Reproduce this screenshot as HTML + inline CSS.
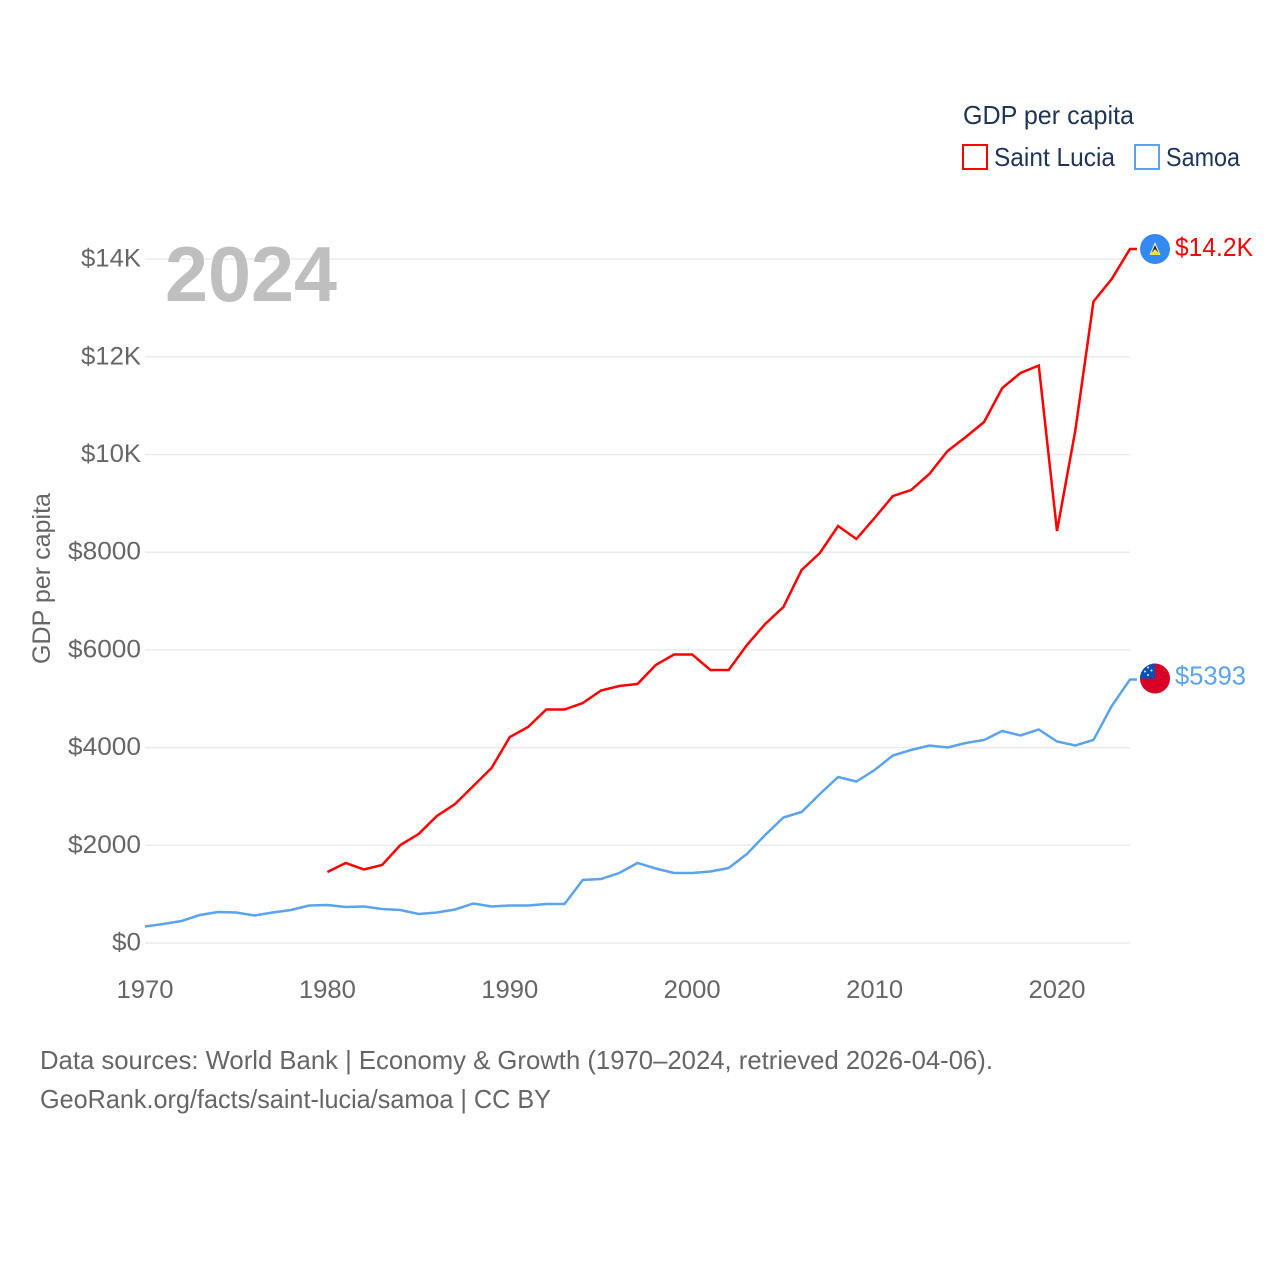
<!DOCTYPE html>
<html lang="en">
<head>
<meta charset="utf-8">
<title>GDP per capita: Saint Lucia and Samoa</title>
<style>
html,body{margin:0;padding:0;background:#fff}
svg{display:block}
text{font-family:"Liberation Sans",sans-serif}
</style>
</head>
<body>
<svg id="chart" xmlns="http://www.w3.org/2000/svg" width="1280" height="1280" viewBox="0 0 1280 1280">
  <rect x="0" y="0" width="1280" height="1280" fill="#ffffff"/>
  <defs>
    <clipPath id="flag-clip"><circle cx="0" cy="0" r="15"/></clipPath>
  </defs>
  <g id="grid"></g>
  <g id="yticks"></g>
  <g id="xticks"></g>
  <text transform="translate(50,664) rotate(-90)" font-size="25" fill="#666666" textLength="171" lengthAdjust="spacingAndGlyphs">GDP per capita</text>
  <text x="165" y="301" font-size="78" font-weight="700" fill="#bfbfbf" textLength="172" lengthAdjust="spacingAndGlyphs">2024</text>
  <g id="series"></g>

  <g>
    <text x="963" y="124" font-size="26" fill="#1d3557" textLength="171" lengthAdjust="spacingAndGlyphs">GDP per capita</text>
    <g>
      <rect x="963" y="145" width="24" height="24" fill="none" stroke="#ff0000" stroke-width="2"/>
      <text x="994" y="166" font-size="26" fill="#1d3557" textLength="121" lengthAdjust="spacingAndGlyphs">Saint Lucia</text>
    </g>
    <g>
      <rect x="1135" y="145" width="24" height="24" fill="none" stroke="#5ba3ee" stroke-width="2"/>
      <text x="1166" y="166" font-size="26" fill="#1d3557" textLength="74" lengthAdjust="spacingAndGlyphs">Samoa</text>
    </g>
  </g>

  <g id="flag-saint-lucia">
    <g clip-path="url(#flag-clip)">
      <rect x="-15" y="-15" width="30" height="30" fill="#338af3"/>
      <polygon points="0,-7 5.5,6 -5.5,6" fill="#f0f0f0"/>
      <polygon points="0,-4 4,5 -4,5" fill="#222222"/>
      <polygon points="0,0 5.5,6 -5.5,6" fill="#ffda44"/>
    </g>
  </g>
  <g id="flag-samoa">
    <g clip-path="url(#flag-clip)">
      <rect x="-15" y="-15" width="30" height="30" fill="#d80027"/>
      <rect x="-15" y="-15" width="15" height="15" fill="#0052b4"/>
      <circle cx="-7" cy="-11" r="1" fill="#f0f0f0"/>
      <circle cx="-3.5" cy="-8" r="1" fill="#f0f0f0"/>
      <circle cx="-10" cy="-7" r="1" fill="#f0f0f0"/>
      <circle cx="-7" cy="-3.5" r="1" fill="#f0f0f0"/>
    </g>
  </g>

  <g id="value-labels"></g>

  <text x="40" y="1069" font-size="26" fill="#666666" textLength="953" lengthAdjust="spacingAndGlyphs">Data sources: World Bank | Economy &amp; Growth (1970–2024, retrieved 2026-04-06).</text>
  <text x="40" y="1108" font-size="26" fill="#666666" textLength="511" lengthAdjust="spacingAndGlyphs">GeoRank.org/facts/saint-lucia/samoa | CC BY</text>
</svg>
<script>
const NS = 'http://www.w3.org/2000/svg';
const yTickValues = [0, 2000, 4000, 6000, 8000, 10000, 12000, 14000];
const yTickLabels = ['$0', '$2000', '$4000', '$6000', '$8000', '$10K', '$12K', '$14K'];
const xTickYears = [1970, 1980, 1990, 2000, 2010, 2020];
const saintLuciaYears = [1980,1981,1982,1983,1984,1985,1986,1987,1988,1989,1990,1991,1992,1993,1994,1995,1996,1997,1998,1999,2000,2001,2002,2003,2004,2005,2006,2007,2008,2009,2010,2011,2012,2013,2014,2015,2016,2017,2018,2019,2020,2021,2022,2023,2024];
const saintLuciaValues = [1453,1638,1505,1597,2006,2231,2600,2845,3214,3582,4217,4422,4780,4780,4913,5169,5261,5302,5691,5906,5906,5589,5589,6100,6530,6878,7636,7984,8536,8270,8700,9150,9273,9601,10072,10358,10665,11361,11668,11822,8434,10481,13132,13593,14207];
const samoaYears = [1970,1971,1972,1973,1974,1975,1976,1977,1978,1979,1980,1981,1982,1983,1984,1985,1986,1987,1988,1989,1990,1991,1992,1993,1994,1995,1996,1997,1998,1999,2000,2001,2002,2003,2004,2005,2006,2007,2008,2009,2010,2011,2012,2013,2014,2015,2016,2017,2018,2019,2020,2021,2022,2023,2024];
const samoaValues = [338,389,450,573,635,624,563,624,676,768,778,737,747,696,676,594,624,686,809,747,768,768,798,798,1290,1310,1433,1638,1525,1433,1433,1464,1535,1822,2211,2569,2682,3050,3398,3306,3541,3838,3951,4043,4002,4094,4156,4340,4248,4371,4125,4043,4156,4852,5393];
const saintLuciaLabel = '$14.2K';
const samoaLabel = '$5393';

function xScale(year) { return 145 + (year - 1970) * 18.24; }
function yScale(value) { return 943 - value * 0.04885; }

function textWidth(label) {
  if (label.length === 2) return 29;
  if (label.length === 4) return 60;
  return 73;
}

const gridGroup = document.getElementById('grid');
const yTickGroup = document.getElementById('yticks');
const xTickGroup = document.getElementById('xticks');
const seriesGroup = document.getElementById('series');
const valueGroup = document.getElementById('value-labels');

yTickValues.forEach(function (value, i) {
  const line = document.createElementNS(NS, 'line');
  
  
  line.setAttribute('x1', xScale(1970));
  line.setAttribute('x2', xScale(2024));
  line.setAttribute('y1', yScale(value));
  line.setAttribute('y2', yScale(value));
  line.setAttribute('stroke', '#ebebeb');
  line.setAttribute('stroke-width', '1.5');
  gridGroup.appendChild(line);

  const label = document.createElementNS(NS, 'text');
  
  
  const width = textWidth(yTickLabels[i]);
  label.setAttribute('x', 141 - width);
  label.setAttribute('y', yScale(value) + 7.5);
  label.setAttribute('font-size', '25');
  label.setAttribute('fill', '#666666');
  label.setAttribute('textLength', width);
  label.setAttribute('lengthAdjust', 'spacingAndGlyphs');
  label.textContent = yTickLabels[i];
  yTickGroup.appendChild(label);
});

xTickYears.forEach(function (year) {
  const label = document.createElementNS(NS, 'text');
  
  
  label.setAttribute('x', xScale(year) - 28.5);
  label.setAttribute('y', 998);
  label.setAttribute('font-size', '25');
  label.setAttribute('fill', '#666666');
  label.setAttribute('textLength', '57');
  label.setAttribute('lengthAdjust', 'spacingAndGlyphs');
  label.textContent = year;
  xTickGroup.appendChild(label);
});

function linePoints(years, values) {
  const pts = years.map(function (year, i) {
    return xScale(year).toFixed(2) + ',' + yScale(values[i]).toFixed(2);
  });
  pts.push((xScale(years[years.length - 1]) + 7).toFixed(2) + ',' + yScale(values[values.length - 1]).toFixed(2));
  return pts.join(' ');
}

const saintLuciaLine = document.createElementNS(NS, 'polyline');


saintLuciaLine.setAttribute('points', linePoints(saintLuciaYears, saintLuciaValues));
saintLuciaLine.setAttribute('fill', 'none');
saintLuciaLine.setAttribute('stroke', '#ff0000');
saintLuciaLine.setAttribute('stroke-width', '2.5');
seriesGroup.appendChild(saintLuciaLine);

const samoaLine = document.createElementNS(NS, 'polyline');


samoaLine.setAttribute('points', linePoints(samoaYears, samoaValues));
samoaLine.setAttribute('fill', 'none');
samoaLine.setAttribute('stroke', '#5ba3ee');
samoaLine.setAttribute('stroke-width', '2.5');
seriesGroup.appendChild(samoaLine);

const saintLuciaEndY = yScale(saintLuciaValues[saintLuciaValues.length - 1]);
const samoaEndY = yScale(samoaValues[samoaValues.length - 1]);
document.getElementById('flag-saint-lucia').setAttribute('transform', 'translate(1155,' + saintLuciaEndY + ')');
document.getElementById('flag-samoa').setAttribute('transform', 'translate(1155,' + (samoaEndY - 1) + ')');

const saintLuciaText = document.createElementNS(NS, 'text');


saintLuciaText.setAttribute('x', 1175);
saintLuciaText.setAttribute('y', saintLuciaEndY + 7);
saintLuciaText.setAttribute('font-size', '26');
saintLuciaText.setAttribute('fill', '#ff0000');
saintLuciaText.setAttribute('textLength', '78');
saintLuciaText.setAttribute('lengthAdjust', 'spacingAndGlyphs');
saintLuciaText.textContent = saintLuciaLabel;
valueGroup.appendChild(saintLuciaText);

const samoaText = document.createElementNS(NS, 'text');


samoaText.setAttribute('x', 1175);
samoaText.setAttribute('y', samoaEndY + 5);
samoaText.setAttribute('font-size', '26');
samoaText.setAttribute('fill', '#5ba3ee');
samoaText.setAttribute('textLength', '71');
samoaText.setAttribute('lengthAdjust', 'spacingAndGlyphs');
samoaText.textContent = samoaLabel;
valueGroup.appendChild(samoaText);
</script>
</body>
</html>
